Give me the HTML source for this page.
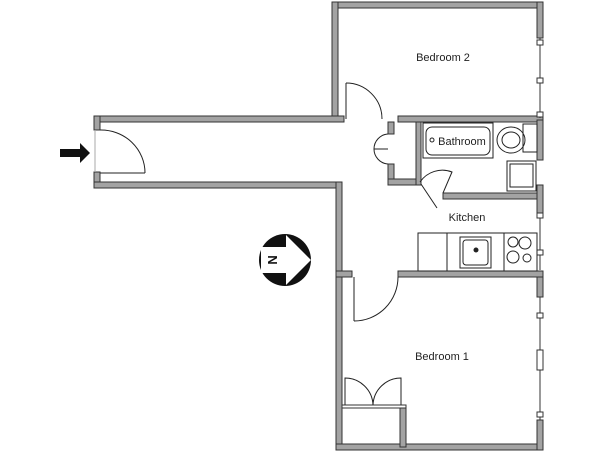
<!DOCTYPE html>
<html><head><style>html,body{margin:0;padding:0;background:#fff}svg{display:block}</style></head>
<body>
<svg width="601" height="451" viewBox="0 0 601 451" xmlns="http://www.w3.org/2000/svg" font-family="Liberation Sans, sans-serif">
<g fill="#a3a3a3" stroke="#333" stroke-width="1">
<!-- Bedroom2 -->
<rect x="332" y="2" width="211" height="6"/>
<rect x="332" y="2" width="6" height="118"/>
<rect x="537" y="2" width="6" height="36"/>
<!-- corridor top -->
<rect x="94" y="116" width="250" height="6"/>
<rect x="398" y="116" width="145" height="6"/>
<rect x="94" y="116" width="6" height="14"/>
<rect x="94" y="172" width="6" height="16"/>
<rect x="94" y="182" width="248" height="6"/>
<rect x="336" y="182" width="6" height="268"/>
<!-- closet/bath -->
<rect x="388" y="122" width="6" height="12"/>
<rect x="388" y="164" width="6" height="21"/>
<rect x="388" y="179" width="33" height="6"/>
<rect x="416" y="122" width="5" height="63"/>
<rect x="443" y="193" width="100" height="6"/>
<!-- bedroom1 top -->
<rect x="336" y="271" width="16" height="6"/>
<rect x="398" y="271" width="145" height="6"/>
<rect x="336" y="444" width="207" height="6"/>
<rect x="537" y="277" width="6" height="20"/>
<rect x="537" y="420" width="6" height="30"/>
<rect x="537" y="120" width="6" height="40"/>
<rect x="537" y="185" width="6" height="30"/>
<!-- bedroom1 closet -->
<rect x="400" y="405" width="6" height="42"/>
<rect x="342" y="405" width="64" height="3" fill="#fff"/>
</g>
<!-- windows -->
<g stroke="#333" stroke-width="1" fill="#fff">
<line x1="540" y1="38" x2="540" y2="118"/><rect x="537" y="40" width="6" height="5"/><rect x="537" y="78" width="6" height="5"/><rect x="537" y="112" width="6" height="5"/>
<line x1="540" y1="215" x2="540" y2="270"/><rect x="537" y="213" width="6" height="5"/><rect x="537" y="250" width="6" height="5"/>
<line x1="540" y1="297" x2="540" y2="420"/><rect x="537" y="313" width="6" height="5"/><rect x="537" y="350" width="6" height="20"/><rect x="537" y="412" width="6" height="5"/>
</g>
<g fill="none" stroke="#222" stroke-width="1">
<!-- entry door -->
<line x1="100" y1="173" x2="145" y2="173"/><path d="M100 130 A44 43 0 0 1 145 173"/>
<line x1="95" y1="130" x2="95" y2="172" stroke="#aaa"/>
<!-- bedroom2 door -->
<line x1="346" y1="83" x2="346" y2="119"/><path d="M346 83 A36 36 0 0 1 382 119"/>
<!-- closet double doors -->
<path d="M388 134 A15 15 0 0 0 374 149 L388 149"/><path d="M388 164 A15 15 0 0 1 374 149"/>
<!-- bath door -->
<path d="M421 184 L437 208"/><path d="M420 182 A27 27 0 0 1 452 172 L443 193"/>
<!-- bedroom1 door -->
<line x1="354" y1="277" x2="354" y2="321"/><path d="M354 321 A44 44 0 0 0 398 277"/>
<!-- closet doors bottom -->
<path d="M345 405 L345 378 A28 28 0 0 1 373 405"/><path d="M401 405 L401 378 A28 28 0 0 0 373 405"/>
<!-- bathtub -->
<rect x="423" y="123" width="70" height="35"/><rect x="426" y="127" width="64" height="28" rx="6"/>
<circle cx="432" cy="140" r="2"/>
<!-- toilet -->
<ellipse cx="511" cy="140" rx="14" ry="13"/><ellipse cx="511" cy="140" rx="9" ry="8"/>
<rect x="523" y="124" width="14" height="28"/>
<!-- sink bath -->
<rect x="507" y="161" width="29" height="30"/><rect x="510" y="164" width="23" height="23"/>
<!-- kitchen counter -->
<rect x="418" y="233" width="119" height="38"/>
<line x1="447" y1="233" x2="447" y2="271"/><line x1="504" y1="233" x2="504" y2="271"/>
<rect x="460" y="237" width="31" height="31"/><rect x="463" y="240" width="25" height="25" rx="3"/>
<circle cx="476" cy="250" r="2" fill="#222"/>
<circle cx="513" cy="242" r="5"/><circle cx="525" cy="243" r="6"/><circle cx="513" cy="257" r="6"/><circle cx="527" cy="258" r="4"/>
</g>
<!-- entry arrow -->
<path d="M60 149 L80 149 L80 143 L90 153 L80 163 L80 157 L60 157 Z" fill="#111"/>
<!-- north symbol -->
<circle cx="285" cy="260" r="26" fill="#111"/>
<path d="M261 247 L286 247 L286 235 L311 260 L286 285 L286 273 L261 273 Z" fill="#fff"/>
<text x="273" y="260" font-size="13" font-weight="bold" fill="#111" text-anchor="middle" transform="rotate(90 273 260)" dy="5">N</text>
<g font-size="11" fill="#222" text-anchor="middle">
<text x="443" y="61">Bedroom 2</text>
<text x="462" y="145">Bathroom</text>
<text x="467" y="221">Kitchen</text>
<text x="442" y="360">Bedroom 1</text>
</g>
</svg>
</body></html>
